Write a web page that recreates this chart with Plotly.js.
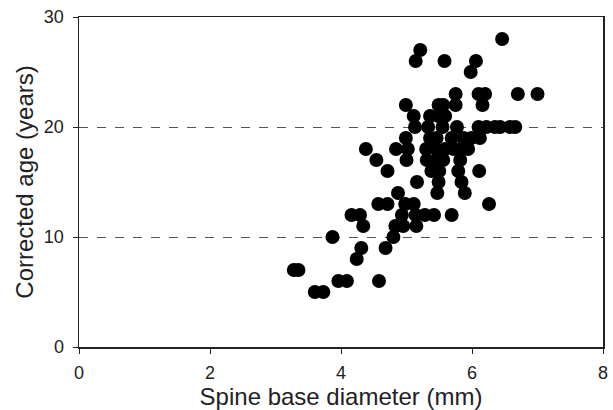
<!DOCTYPE html>
<html>
<head>
<meta charset="utf-8">
<script src="https://cdn.plot.ly/plotly-3.0.1.min.js"></script>
<style>
html,body{margin:0;padding:0;background:#fff;}
#chart{width:613px;height:410px;}
</style>
</head>
<body>
<div id="chart"></div>
<script>
// Spine base diameter (mm)
const diameter = [
  6.46,
  5.21,
  5.14, 5.58, 6.06,
  5.98,
  5.75, 6.10, 6.20, 6.70, 7.00,
  4.99, 5.49, 5.56, 5.75, 6.16,
  5.11, 5.36, 5.49, 5.59,
  5.13, 5.33, 5.55, 5.77, 6.10, 6.22, 6.35, 6.43, 6.58, 6.66,
  4.99, 5.36, 5.46, 5.69, 5.87, 5.99, 6.12,
  4.38, 4.84, 5.02, 5.30, 5.45, 5.59, 5.72, 5.82, 5.94,
  4.54, 5.00, 5.31, 5.46, 5.56, 5.82,
  4.71, 5.38, 5.50, 5.79, 6.11,
  5.16, 5.49, 5.84,
  4.87, 5.47, 5.89,
  4.57, 4.71, 4.98, 5.11, 6.26,
  4.16, 4.29, 4.93, 5.14, 5.28, 5.42, 5.69,
  4.34, 4.83, 4.95, 5.15,
  3.87, 4.80,
  4.31, 4.68,
  4.24,
  3.28, 3.35,
  3.96, 4.09, 4.58,
  3.60, 3.73
];
// Corrected age (years)
const age = [
  28,
  27,
  26, 26, 26,
  25,
  23, 23, 23, 23, 23,
  22, 22, 22, 22, 22,
  21, 21, 21, 21,
  20, 20, 20, 20, 20, 20, 20, 20, 20, 20,
  19, 19, 19, 19, 19, 19, 19,
  18, 18, 18, 18, 18, 18, 18, 18, 18,
  17, 17, 17, 17, 17, 17,
  16, 16, 16, 16, 16,
  15, 15, 15,
  14, 14, 14,
  13, 13, 13, 13, 13,
  12, 12, 12, 12, 12, 12, 12,
  11, 11, 11, 11,
  10, 10,
  9, 9,
  8,
  7, 7,
  6, 6, 6,
  5, 5
];
const xTicks = [0, 2, 4, 6, 8];
const yTicks = [0, 10, 20, 30];

const trace = {
  x: diameter,
  y: age,
  type: 'scatter',
  mode: 'markers',
  marker: {color: '#000', size: 14, line: {width: 0}},
  hoverinfo: 'skip'
};

const fam = '"Liberation Sans", Arial, sans-serif';

const layout = {
  width: 613,
  height: 410,
  margin: {l: 79, r: 10, t: 17, b: 63},
  paper_bgcolor: '#fff',
  plot_bgcolor: '#fff',
  showlegend: false,
  font: {family: fam, color: '#222'},
  xaxis: {
    range: [0, 8],
    tickvals: xTicks,
    ticktext: xTicks.map(String),
    showgrid: false,
    zeroline: false,
    showline: true,
    mirror: true,
    linecolor: '#222',
    linewidth: 1.5,
    ticks: 'outside',
    ticklen: 5,
    tickcolor: '#222',
    ticklabelstandoff: 4,
    tickfont: {family: fam, size: 18, color: '#222'},
    title: {text: 'Spine base diameter (mm)', font: {family: fam, size: 24, color: '#222'}, standoff: 4}
  },
  yaxis: {
    range: [0, 30],
    tickvals: yTicks,
    ticktext: yTicks.map(String),
    showgrid: true,
    gridcolor: '#555',
    griddash: 'dash',
    gridwidth: 1,
    zeroline: false,
    showline: true,
    mirror: true,
    linecolor: '#222',
    linewidth: 1.5,
    ticks: 'outside',
    ticklen: 5,
    tickcolor: '#222',
    ticklabelstandoff: 5,
    tickfont: {family: fam, size: 18, color: '#222'},
    title: {text: 'Corrected age (years)', font: {family: fam, size: 24, color: '#222'}, standoff: 3}
  }
};

Plotly.newPlot('chart', [trace], layout, {displayModeBar: false, staticPlot: true});
</script>
</body>
</html>
